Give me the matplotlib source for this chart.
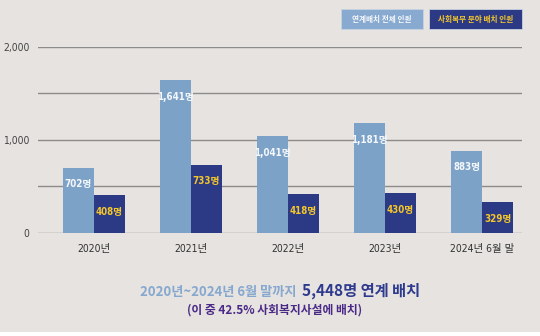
import matplotlib
matplotlib.use("Agg")
import matplotlib.pyplot as plt
from matplotlib.patches import Rectangle
import numpy as np

categories = ["2020년", "2021년", "2022년", "2023년", "2024년 6월 말"]
total_linked = [702, 1641, 1041, 1181, 883]
social_service = [408, 733, 418, 430, 329]
legend_labels = ["연계배치 전체 인원", "사회복무 분야 배치 인원"]
ytick_values = [0, 500, 1000, 1500, 2000]
ytick_labels = ["0", "", "1,000", "", "2,000"]

BG = "#e6e3e0"
LIGHT = "#7da2c8"
DARK = "#2c3a85"
YELLOW = "#f3c62c"
PURPLE = "#4b2a87"
CJK = ["Noto Sans CJK KR", "DejaVu Sans"]
NUM = ["DejaVu Sans", "Noto Sans CJK KR"]

fig = plt.figure(figsize=(5.4, 3.36), dpi=100, facecolor=BG)
ax = fig.add_axes([38/540, 1-233/336, 484/540, (233-46.7)/336])
ax.set_facecolor(BG)

x = np.arange(len(categories))
w = 0.32
b1 = ax.bar(x - w/2, total_linked, w, color=LIGHT, zorder=3)
b2 = ax.bar(x + w/2, social_service, w, color=DARK, zorder=3)

for rect, v in zip(b1, total_linked):
    ax.annotate(f"{v:,}명", (rect.get_x() + rect.get_width()/2, v),
                xytext=(0, -12), textcoords="offset points", ha="center", va="center",
                color="#f4f7fb", fontsize=7, family=NUM, fontstretch="condensed",
                fontweight="bold", zorder=4)
for rect, v in zip(b2, social_service):
    ax.annotate(f"{v:,}명", (rect.get_x() + rect.get_width()/2, v),
                xytext=(0, -12), textcoords="offset points", ha="center", va="center",
                color=YELLOW, fontsize=7, family=NUM, fontstretch="condensed",
                fontweight="bold", zorder=4)

ax.set_xlim(-0.577, 4.41)
ax.set_ylim(0, 2000)
ax.set_yticks(ytick_values)
ax.set_yticklabels(ytick_labels, family=NUM, fontstretch="condensed", fontsize=7.5, color="#444444")
ax.set_xticks(x)
ax.set_xticklabels(categories, family=NUM, fontstretch="condensed", fontsize=7.5, color="#333333")
ax.tick_params(axis="both", length=0)
ax.tick_params(axis="y", pad=6)
ax.tick_params(axis="x", pad=8)
ax.grid(axis="y", color="#8c8c8c", linewidth=1.0, zorder=1)
for s in ax.spines.values():
    s.set_visible(False)

def legend_box(x0, x1, y0, y1, fc, text, tc):
    fig.patches.append(Rectangle((x0/540, 1-y1/336), (x1-x0)/540, (y1-y0)/336,
                                 transform=fig.transFigure, facecolor=fc,
                                 edgecolor="#c9d3e0", linewidth=0.6))
    fig.text((x0+x1)/2/540, 1-(y0+y1)/2/336, text, ha="center", va="center",
             color=tc, fontsize=5.5, family=CJK, fontweight="bold")

legend_box(340.7, 423, 9.3, 29.3, "#88aad0", legend_labels[0], "#f4f7fb")
legend_box(429, 521.7, 9.3, 29.3, DARK, legend_labels[1], YELLOW)

fig.text(297/540, 1-292/336, "2020년~2024년 6월 말까지", ha="right", va="center",
         color="#86a8cf", fontsize=9.5, family=CJK, fontweight="bold")
fig.text(302/540, 1-291/336, "5,448명 연계 배치", ha="left", va="center",
         color="#2e3a8e", fontsize=11, family=CJK, fontweight="bold")
fig.text(275/540, 1-310/336, "(이 중 42.5% 사회복지사설에 배치)", ha="center", va="center",
         color=PURPLE, fontsize=8.5, family=CJK, fontweight="bold")

fig.patches.append(Rectangle((0, 0), 1, 4/336, transform=fig.transFigure,
                             facecolor="white", edgecolor="none"))

fig.savefig("out.png", dpi=100, facecolor=BG)
